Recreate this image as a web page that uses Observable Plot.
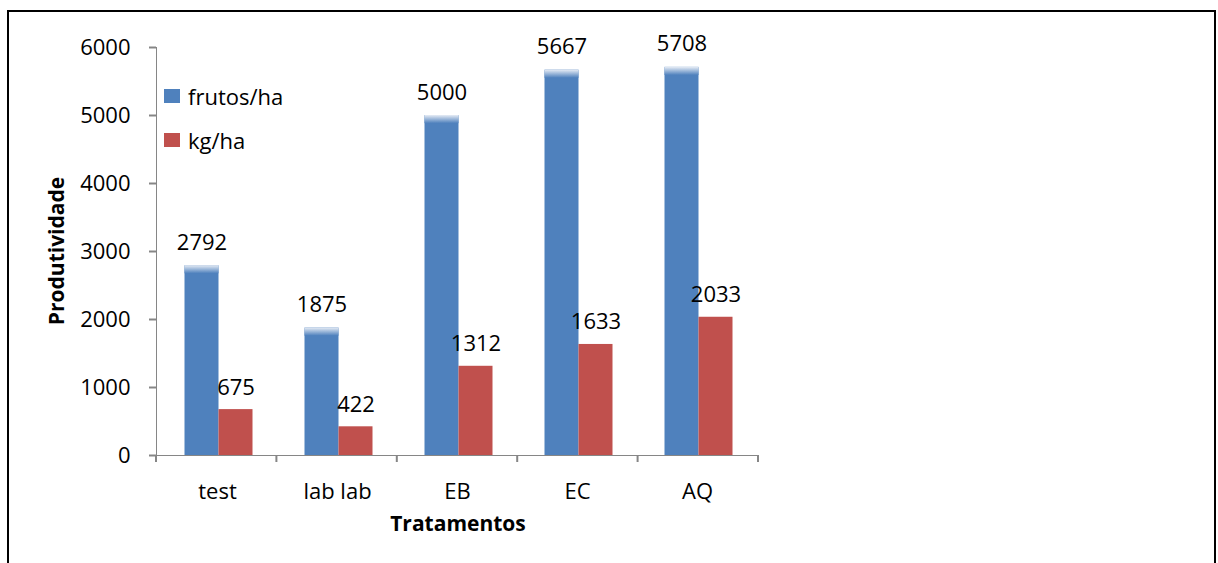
<!DOCTYPE html>
<html>
<head>
<meta charset="utf-8">
<script src="https://cdn.jsdelivr.net/npm/d3@7"></script>
<script src="https://cdn.jsdelivr.net/npm/@observablehq/plot@0.6"></script>
<style>
  body { margin: 0; background: #fff; }
  #wrap { position: relative; width: 1218px; height: 563px; overflow: hidden; font-family: "Open Sans", sans-serif; }
  #frame { position: absolute; left: 7px; top: 10px; width: 1205px; height: 640px; border: 2px solid #000; border-bottom: none; }
  #chart { position: absolute; left: 0; top: 0; }
  #chart svg text { fill: #000; }
  #chart svg [aria-label^="y-axis"] line,
  #chart svg [aria-label^="y-axis"] path,
  #chart svg [aria-label^="x-axis"] line,
  #chart svg [aria-label^="x-axis"] path { stroke-width: 2px; }
  .legend { position: absolute; left: 164px; font-size: 22px; color: #000; }
  .legend .row { position: absolute; left: 0; white-space: nowrap; display: flex; align-items: center; height: 28px; }
  .legend .sw { width: 16px; height: 14px; margin-right: 8px; }
</style>
</head>
<body>
<div id="wrap">
  <div id="chart"></div>
  <div id="frame"></div>
  <div class="legend" id="legend"></div>
</div>
<script>
// Productivity by treatment: fruits per hectare and kilograms per hectare
const categories = ["test", "lab lab", "EB", "EC", "AQ"];
const frutosHa = [2792, 1875, 5000, 5667, 5708];
const kgHa = [675, 422, 1312, 1633, 2033];
const yTicks = [0, 1000, 2000, 3000, 4000, 5000, 6000];
const seriesNames = ["frutos/ha", "kg/ha"];
const seriesColors = ["#4F81BD", "#C0504D"];

const rows = categories.map((c, i) => ({cat: c, frutos: frutosHa[i], kg: kgHa[i]}));

const W = 1218, H = 563;
const mL = 156, mR = 460, mT = 47, mB = 108;
const barW = 34;
const shift = 1.5; // groups sit slightly right of the band centre
const step = (W - mL - mR) / categories.length;
const padIn = 1 - barW / step;
const FADE = 120; // depth of the soft highlight on top of the blue bars (value units)

const font = "'Open Sans', sans-serif";
const fs = 22;

const plot = Plot.plot({
  width: W,
  height: H,
  marginLeft: mL,
  marginRight: mR,
  marginTop: mT,
  marginBottom: mB,
  style: {fontFamily: font, fontSize: `${fs}px`, color: "#868686", background: "transparent", overflow: "visible"},
  x: {domain: categories, paddingInner: padIn, paddingOuter: padIn / 2, tickSize: 0, tickPadding: 28, label: null, line: true},
  y: {domain: [0, 6000], ticks: yTicks, tickSize: 7, tickPadding: 19, tickFormat: d => String(d), label: null, line: true},
  marks: [
    Plot.barY(rows, {x: "cat", y: "frutos", fill: seriesColors[0], dx: -barW / 2 + shift}),
    Plot.barY(rows, {x: "cat", y1: d => d.frutos - FADE, y2: "frutos", fill: "url(#topfade)", dx: -barW / 2 + shift}),
    Plot.barY(rows, {x: "cat", y: "kg", fill: seriesColors[1], dx: barW / 2 + shift}),
    Plot.text(rows, {x: "cat", y: "frutos", text: d => String(d.frutos), dx: -barW / 2 + shift, dy: -16, lineAnchor: "bottom", fontSize: fs, fill: "#000"}),
    Plot.text(rows, {x: "cat", y: "kg", text: d => String(d.kg), dx: barW / 2 + shift, dy: -15, lineAnchor: "bottom", fontSize: fs, fill: "#000"})
  ]
});

document.getElementById("chart").appendChild(plot);
const svg = d3.select(plot);

// gradient for the light top edge of the blue bars
const defs = svg.insert("defs", ":first-child");
const g = defs.append("linearGradient").attr("id", "topfade")
  .attr("x1", 0).attr("y1", 0).attr("x2", 0).attr("y2", 1);
g.append("stop").attr("offset", "0%").attr("stop-color", "#e6ecf5");
g.append("stop").attr("offset", "100%").attr("stop-color", seriesColors[0]);

// category boundary ticks on the x axis
const xs = plot.scale("x");
const x0 = xs.range[0], x1 = xs.range[1];
const st = (x1 - x0) / categories.length;
const y0 = H - mB;
const bounds = d3.range(categories.length + 1).map(i => x0 + i * st);
svg.append("g").selectAll("line").data(bounds).join("line")
  .attr("x1", d => d).attr("x2", d => d)
  .attr("y1", y0).attr("y2", y0 + 7)
  .attr("stroke", "#868686").attr("stroke-width", 2);

// axis titles
svg.append("text")
  .attr("transform", `translate(64,${(mT + y0) / 2}) rotate(-90)`)
  .attr("text-anchor", "middle")
  .style("font-family", font).style("font-size", "21px").style("font-weight", "bold")
  .text("Produtividade");
svg.append("text")
  .attr("x", (x0 + x1) / 2 + 1).attr("y", 531)
  .attr("text-anchor", "middle")
  .style("font-family", font).style("font-size", "21px").style("font-weight", "bold")
  .text("Tratamentos");

// legend
const legend = d3.select("#legend");
seriesNames.forEach((name, i) => {
  const row = legend.append("div").attr("class", "row").style("top", `${82 + i * 44}px`);
  row.append("div").attr("class", "sw").style("background", seriesColors[i]);
  row.append("span").text(name);
});
</script>
</body>
</html>
